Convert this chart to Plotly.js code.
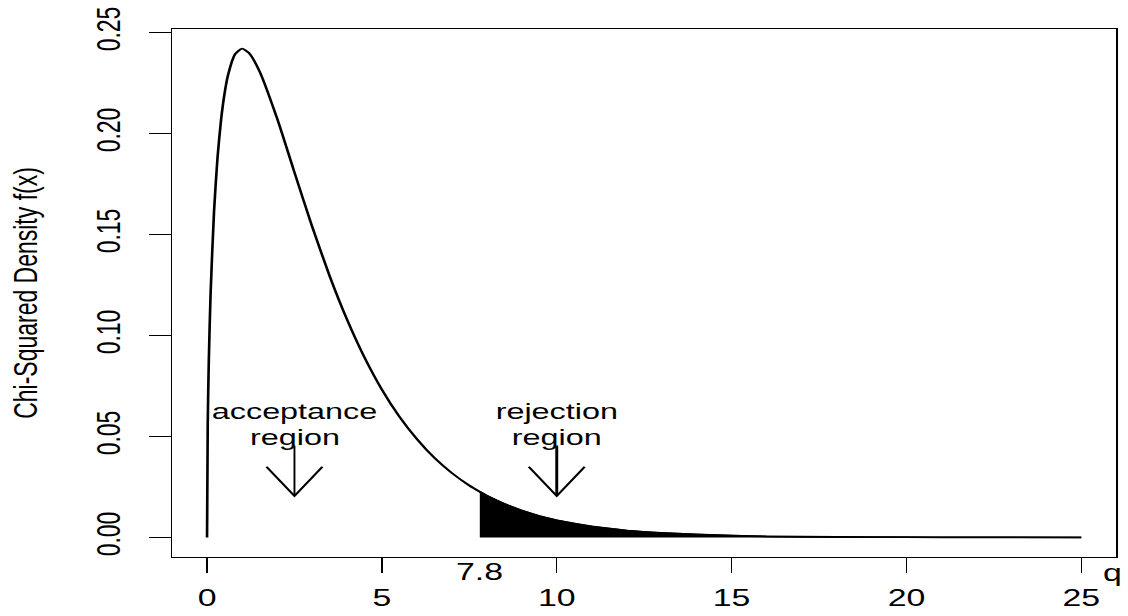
<!DOCTYPE html>
<html>
<head>
<meta charset="utf-8">
<script src="https://cdn.plot.ly/plotly-3.0.1.min.js"></script>
<style>
  html, body { margin: 0; padding: 0; background: #ffffff; overflow: hidden; }
  #chart { position: absolute; left: 0; top: 0; width: 767px; height: 616px;
           transform: scaleX(1.4707); transform-origin: 0 0; }
</style>
</head>
<body>
<div id="chart"></div>
<script>
// Chi-squared density (q on the x axis, f(x) on the y axis)
const qValues = [0, 0.02, 0.05, 0.1, 0.2, 0.3, 0.4, 0.5, 0.6, 0.8, 1, 1.2, 1.5, 2, 2.5, 3, 3.5, 4, 4.5, 5,
                 5.5, 6, 6.5, 7, 7.5, 7.8, 8, 8.5, 9, 9.5, 10, 11, 12, 13, 14, 15, 16, 18, 20, 22, 25];
const densityValues = [0, 0.0559, 0.0870, 0.1200, 0.1614, 0.1881, 0.2066, 0.2197, 0.2289, 0.2392, 0.2420,
                       0.2398, 0.2308, 0.2076, 0.1807, 0.1542, 0.1297, 0.1080, 0.0892, 0.0732,
                       0.0598, 0.0487, 0.0394, 0.0319, 0.0257, 0.0226, 0.0207, 0.0166, 0.0133, 0.0106,
                       0.0085, 0.0054, 0.0034, 0.0022, 0.0014, 0.0009, 0.0005, 0.0002, 0.0001, 0.00003, 0.00001];
const criticalValue = 7.8;
const criticalLabel = "7.8";
const xTickValues = [0, 5, 10, 15, 20, 25];
const xTickLabels = ["0", "5", "10", "15", "20", "25"];
const yTickValues = [0, 0.05, 0.10, 0.15, 0.20, 0.25];
const yTickLabels = ["0.00", "0.05", "0.10", "0.15", "0.20", "0.25"];
const regionLabels = ["acceptance", "rejection"];
const regionCentres = [2.5, 10];
const axisTitleY = "Chi-Squared Density f(x)";
const axisLabelX = "q";

const FONT = "'Liberation Sans', Arial, Helvetica, sans-serif";

// tail (rejection region) taken from the same series
const tailX = [], tailY = [];
qValues.forEach((q, i) => { if (q >= criticalValue) { tailX.push(q); tailY.push(densityValues[i]); } });

const traces = [
  { x: tailX, y: tailY, type: 'scatter', mode: 'lines', fill: 'tozeroy',
    fillcolor: '#000000', line: { color: '#000000', width: 1.5 }, hoverinfo: 'skip', showlegend: false },
  { x: qValues, y: densityValues, type: 'scatter', mode: 'lines',
    line: { color: '#000000', width: 1.8, shape: 'spline', smoothing: 0.6 }, hoverinfo: 'skip', showlegend: false }
];

// downward arrows under each region label
const arrowTop = 0.0455, arrowTip = 0.0205, armDx = 0.8, armDy = 0.0145;
regionCentres.forEach((cx, i) => {
  traces.push({ x: [cx, cx], y: [arrowTop, arrowTip], type: 'scatter', mode: 'lines',
    line: { color: '#000000', width: i === 1 ? 2 : 1.3 }, hoverinfo: 'skip', showlegend: false });
  traces.push({ x: [cx - armDx, cx, cx + armDx], y: [arrowTip + armDy, arrowTip, arrowTip + armDy],
    type: 'scatter', mode: 'lines', line: { color: '#000000', width: 1.6 }, hoverinfo: 'skip', showlegend: false });
});

const txt = (text, x, y, extra) => Object.assign({
  text: text, x: x, y: y, xref: 'x', yref: 'y', showarrow: false,
  xanchor: 'center', yanchor: 'middle', font: { family: FONT, size: 22, color: '#000000' }
}, extra || {});

const annotations = [
  txt(regionLabels[0], regionCentres[0], 0.0621),
  txt("region", regionCentres[0], 0.0497),
  txt(regionLabels[1], regionCentres[1], 0.0621),
  txt("region", regionCentres[1], 0.0497),
  txt(criticalLabel, criticalValue, -0.0284, { yref: 'paper', font: { family: FONT, size: 23, color: '#000000' } }),
  txt(axisLabelX, 25.9, -0.030, { yref: 'paper', font: { family: FONT, size: 23, color: '#000000' } })
];

const axisCommon = {
  showline: true, linecolor: '#000000', linewidth: 1, mirror: true,
  showgrid: false, zeroline: false, ticks: 'outside', ticklen: 15, tickwidth: 1, tickcolor: '#000000',
  tickfont: { family: FONT, size: 23, color: '#000000' }, tickmode: 'array'
};

const layout = {
  width: 767, height: 616,
  margin: { l: 117, r: 8, t: 29, b: 59 },
  paper_bgcolor: '#ffffff', plot_bgcolor: '#ffffff',
  showlegend: false,
  xaxis: Object.assign({}, axisCommon, {
    range: [-1, 26], tickvals: xTickValues, ticktext: xTickLabels, ticklabelstandoff: 5
  }),
  yaxis: Object.assign({}, axisCommon, {
    range: [-0.0097, 0.2517], tickvals: yTickValues, ticktext: yTickLabels, tickangle: -90,
    ticklabelstandoff: 10,
    title: { text: axisTitleY, standoff: 28, font: { family: FONT, size: 23, color: '#000000' } }
  }),
  annotations: annotations
};

Plotly.newPlot('chart', traces, layout, { displayModeBar: false, staticPlot: true });
</script>
</body>
</html>
